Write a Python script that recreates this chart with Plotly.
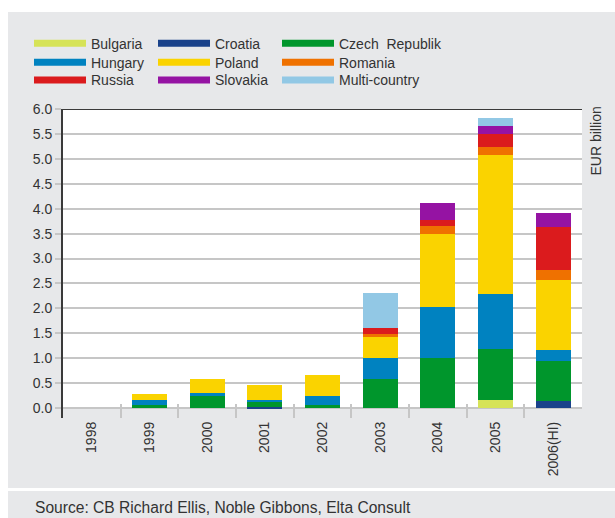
import plotly.graph_objects as go

years = ["1998", "1999", "2000", "2001", "2002", "2003", "2004", "2005", "2006(HI)"]

bulgaria = [0, 0, 0, 0, 0, 0, 0, 0.16, 0]
croatia = [0, 0, 0, 0.03, 0, 0, 0, 0, 0.14]
czech = [0, 0.06, 0.24, 0.10, 0.06, 0.58, 1.00, 1.02, 0.80]
hungary = [0, 0.10, 0.06, 0.03, 0.18, 0.42, 1.03, 1.11, 0.22]
poland = [0, 0.12, 0.28, 0.30, 0.42, 0.43, 1.46, 2.79, 1.41]
romania = [0, 0, 0, 0, 0, 0.06, 0.16, 0.16, 0.20]
russia = [0, 0, 0, 0, 0, 0.12, 0.13, 0.26, 0.86]
slovakia = [0, 0, 0, 0, 0, 0, 0.34, 0.16, 0.29]
multi = [0, 0, 0, 0, 0, 0.70, 0, 0.16, 0]

# (name, values, colour, legend row, legend column)
series = [
    ("Bulgaria", bulgaria, "#d6e358", 0, 0),
    ("Croatia", croatia, "#1a428a", 0, 1),
    ("Czech  Republik", czech, "#00962c", 0, 2),
    ("Hungary", hungary, "#0082c0", 1, 0),
    ("Poland", poland, "#fad300", 1, 1),
    ("Romania", romania, "#ef7100", 1, 2),
    ("Russia", russia, "#db1b1d", 2, 0),
    ("Slovakia", slovakia, "#9513a3", 2, 1),
    ("Multi-country", multi, "#92c8e5", 2, 2),
]

GRAY = "#e7e8ea"
TXT = "#333333"
FONT = "Liberation Sans, Arial, sans-serif"

# plot area geometry in pixels
L, R, T, B = 63, 33, 109, 100
W, H = 615, 518
pw, ph = W - L - R, H - T - B


def px_x(p):
    return (p - L) / pw


def px_y(p):
    return (H - B - p) / ph


def legend_id(row, col):
    # columns 1-2 of a row share one legend, column 3 has its own
    idx = row * 2 + (1 if col == 2 else 0)
    return "legend" if idx == 0 else "legend%d" % (idx + 1)


fig = go.Figure()
for name, vals, col, r, c in series:
    fig.add_trace(go.Bar(x=years, y=vals, name=name, marker=dict(color=col, line=dict(width=0)),
                         legendgroup=name, showlegend=False))
for name, vals, col, r, c in series:
    fig.add_trace(go.Scatter(x=[None], y=[None], mode="lines", name=name,
                             line=dict(color=col, width=7), legendgroup=name,
                             legend=legend_id(r, c), showlegend=True))

shapes = [
    dict(type="rect", xref="paper", yref="paper", x0=px_x(8), x1=px_x(615), y0=px_y(488), y1=px_y(12),
         fillcolor=GRAY, line=dict(width=0), layer="below"),
    dict(type="rect", xref="paper", yref="paper", x0=px_x(8), x1=px_x(615), y0=px_y(518), y1=px_y(491),
         fillcolor=GRAY, line=dict(width=0), layer="below"),
    dict(type="rect", xref="x", yref="y", x0=-0.5, x1=8.5, y0=0, y1=6,
         fillcolor="white", line=dict(width=0), layer="below"),
    dict(type="line", xref="paper", yref="y", x0=0, x1=1, y0=6, y1=6,
         line=dict(color="#3a3a3a", width=2), layer="above"),
]

legfont = dict(family=FONT, size=14, color=TXT)
row_tops = [27.7, 46.7, 64.4]
legends = {}
for r in range(3):
    base = dict(orientation="h", yanchor="top", xanchor="left", bgcolor="rgba(0,0,0,0)",
                borderwidth=0, font=legfont, itemwidth=52, tracegroupgap=0, itemclick=False,
                y=px_y(row_tops[r]))
    legends[legend_id(r, 0)] = dict(base, x=px_x(29), entrywidth=57)
    legends[legend_id(r, 2)] = dict(base, x=px_x(29 + 248))

fig.update_layout(
    width=W, height=H,
    margin=dict(l=L, r=R, t=T, b=B, autoexpand=False),
    paper_bgcolor="white",
    plot_bgcolor=GRAY,
    barmode="stack",
    bargap=0.39,
    font=dict(family=FONT, color=TXT),
    shapes=shapes,
    xaxis=dict(type="category", range=[-0.5, 8.5], tickson="boundaries", ticks="inside", ticklen=14,
               tickcolor="#c6c6c6", tickwidth=2, tickangle=-90, showgrid=False, showline=False,
               zeroline=False, tickfont=dict(family=FONT, size=14, color=TXT)),
    yaxis=dict(range=[-0.2, 6.0], tickvals=[0, 0.5, 1, 1.5, 2, 2.5, 3, 3.5, 4, 4.5, 5, 5.5, 6],
               ticktext=["0.0", "0.5", "1.0", "1.5", "2.0", "2.5", "3.0", "3.5", "4.0", "4.5", "5.0", "5.5", "6.0"],
               showgrid=True, gridcolor="#c6c6c6", gridwidth=1.5, zeroline=False,
               showline=True, linecolor="#3a3a3a", linewidth=2,
               ticks="outside", ticklen=6, tickcolor="#c6c6c6", tickwidth=1.5,
               tickfont=dict(family=FONT, size=14, color=TXT)),
    annotations=[
        dict(text="EUR billion", xref="paper", yref="paper", x=px_x(596), y=px_y(105),
             xanchor="center", yanchor="top", textangle=-90, showarrow=False,
             font=dict(family=FONT, size=14, color=TXT)),
        dict(text="Source: CB Richard Ellis, Noble Gibbons, Elta Consult", xref="paper", yref="paper",
             x=px_x(33), y=px_y(507), xanchor="left", yanchor="middle", showarrow=False,
             font=dict(family=FONT, size=15.6, color=TXT)),
    ],
)
fig.update_layout(**legends)

fig.write_html("out.html")
